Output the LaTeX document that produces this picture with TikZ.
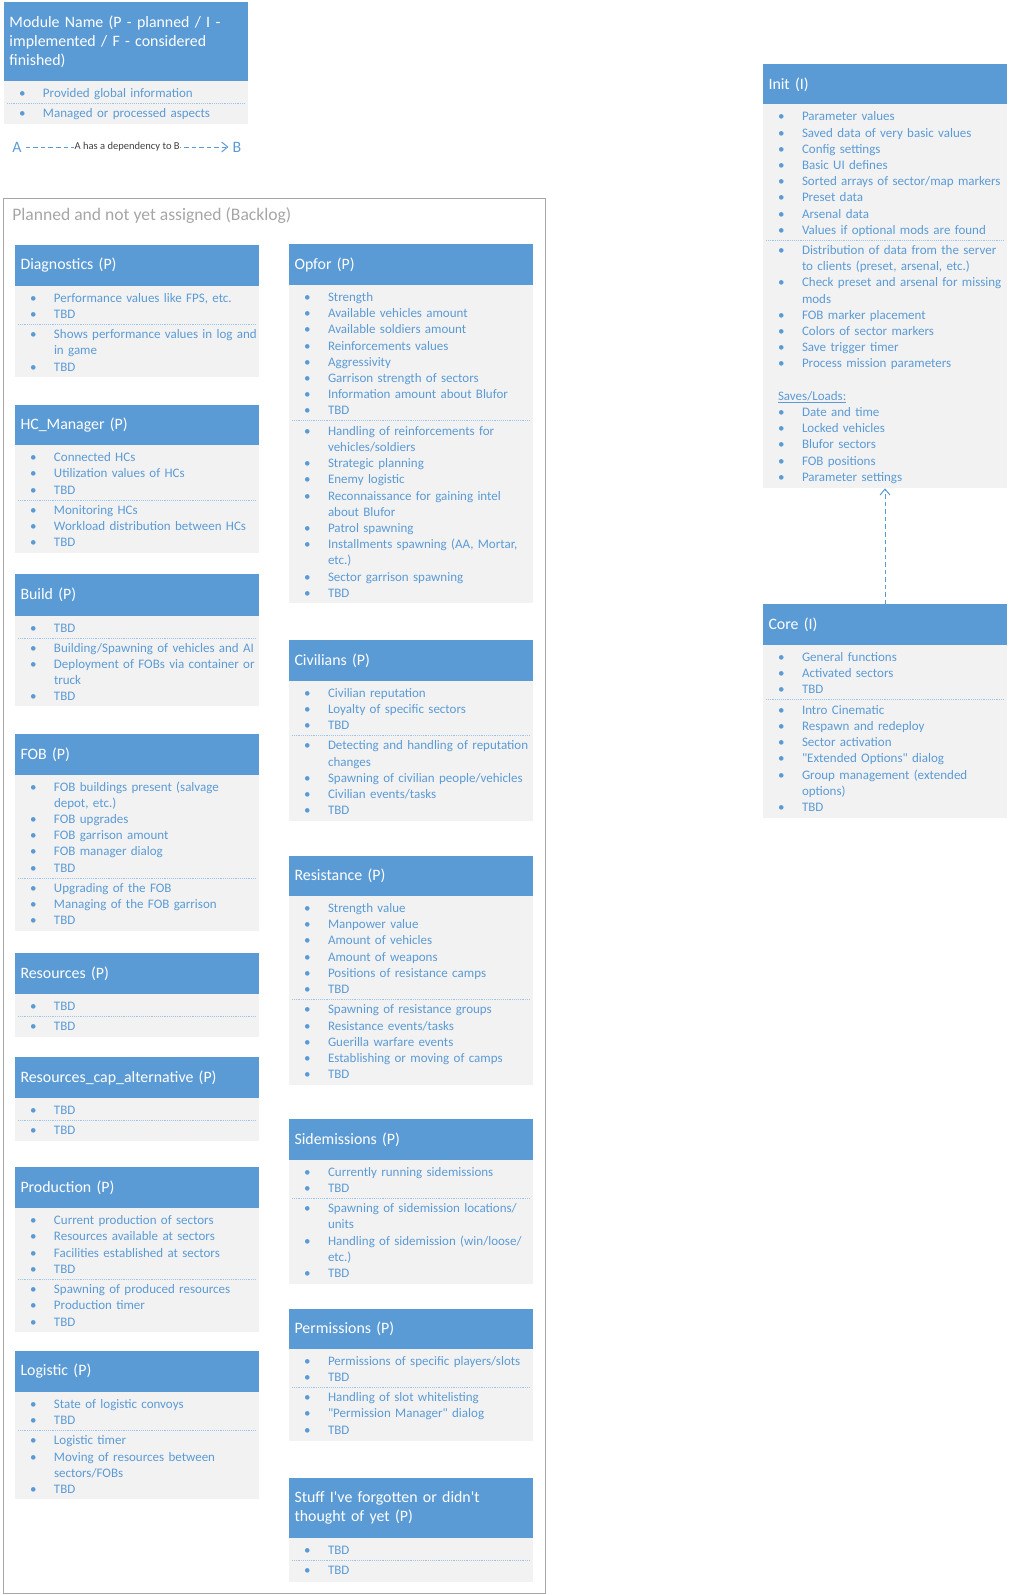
\documentclass[tikz,border=0pt]{standalone}
\usepackage{fontspec}
\setmainfont{Carlito}[Ligatures=TeXOff]
\usetikzlibrary{arrows.meta}
\newdimen\pxu \pxu=0.75pt
\definecolor{hdrblue}{HTML}{5B9BD5}
\definecolor{bodyfill}{HTML}{F2F2F2}
\definecolor{itemc}{HTML}{5B9BD5}
\definecolor{sepc}{HTML}{9DC3E6}
\definecolor{framec}{HTML}{A6A6A6}
\definecolor{titlec}{HTML}{A6A6A6}
\definecolor{labelc}{HTML}{404040}
\newcommand\mystrut{\rule[-3.9pt]{0pt}{12.15pt}}
\newcommand\itm[1]{\noindent\makebox[18pt][l]{\textbullet}\mystrut#1\par}
\newcommand\cnt[1]{\noindent\hspace*{18pt}\mystrut#1\par}
\newcommand\blankline{\noindent\mystrut\par}
\newcommand\plainline[1]{\noindent\mystrut#1\par}
\newcommand\module[8]{%
  \node[hdrbox, minimum height=#4\pxu, anchor=north west] (#1-h) at (#2,#3) {#6};
  \node[bodybox, minimum height=#5\pxu, anchor=north west] (#1) at (#1-h.south west) {};
  \node[itemtext] (#1-a) at ([xshift=11.25pt,yshift=-4.125pt]#1.north west) {#7};
  \coordinate (#1-s) at ([yshift=-0.6pt]#1-a.south west);
  \path (#1.west |- #1-s) coordinate (#1-sl) (#1.east |- #1-s) coordinate (#1-sr);
  \draw[sepline] ([xshift=2.25pt]#1-sl) -- ([xshift=-2.25pt]#1-sr);
  \node[itemtext] (#1-b) at ([yshift=-3.075pt]#1-a.south west) {#8};
}
\tikzset{
  hdrbox/.style={fill=hdrblue, text=white, minimum width=183pt, text width=174.75pt,
    inner xsep=4.125pt, inner ysep=0pt, outer sep=0pt, align=left,
    font={\fontsize{11.9pt}{14.25pt}\selectfont}},
  bodybox/.style={fill=bodyfill, minimum width=183pt, inner sep=0pt, outer sep=0pt},
  itemtext/.style={anchor=north west, inner sep=0pt, outer sep=0pt, text=itemc,
    text width=176pt, align=left, font={\fontsize{9.75pt}{12.15pt}\selectfont}},
  sepline/.style={draw=sepc, line width=0.75pt, dash pattern=on 0.7pt off 0.7pt},
  dep/.style={draw=hdrblue, line width=0.75pt, dash pattern=on 3.4pt off 2.25pt,
    -{Straight Barb[length=4.5pt, width=7.5pt]}},
}
\begin{document}
\begin{tikzpicture}[x=0.75pt, y=-0.75pt]
\useasboundingbox (0,0) rectangle (1010,1595);

% Legend
\module{legend}{4}{2}{79}{43}{Module Name (P - planned / I -\\implemented / F - considered\\finished)}
  {\itm{Provided global information}}
  {\itm{Managed or processed aspects}}
\node[text=hdrblue, inner xsep=3pt, inner ysep=0pt, font={\fontsize{11.9pt}{14.25pt}\selectfont}] (lgA) at (17,147) {A};
\node[text=hdrblue, inner xsep=3pt, inner ysep=0pt, font={\fontsize{11.9pt}{14.25pt}\selectfont}] (lgB) at (237,147) {B};
\draw[dep] (lgA) -- (lgB) node[pos=0.5, fill=white, inner xsep=0.5pt, inner ysep=1pt, text=labelc, font={\fontsize{7.9pt}{9pt}\selectfont}] (lgL) {A has a dependency to B};

% Backlog frame
\node[draw=framec, line width=0.75pt, minimum width=406.3pt, minimum height=1046.25pt,
  anchor=north west, inner sep=0pt, outer sep=0pt] (backlog) at (3.3,198.3) {};
\node[anchor=west, inner sep=0pt, text=titlec, font={\fontsize{13.2pt}{15pt}\selectfont}] (backlog-t) at (12,215.7) {Planned and not yet assigned (Backlog)};

% Left column
\module{diag}{15}{245}{40.7}{91.6}{Diagnostics (P)}
  {\itm{Performance values like FPS, etc.}\itm{TBD}}
  {\itm{Shows performance values in log and}\cnt{in game}\itm{TBD}}
\module{hcm}{15}{404.5}{40.6}{107.4}{HC\_Manager (P)}
  {\itm{Connected HCs}\itm{Utilization values of HCs}\itm{TBD}}
  {\itm{Monitoring HCs}\itm{Workload distribution between HCs}\itm{TBD}}
\module{build}{15}{574.2}{41.3}{90.6}{Build (P)}
  {\itm{TBD}}
  {\itm{Building/Spawning of vehicles and AI}\itm{Deployment of FOBs via container or}\cnt{truck}\itm{TBD}}
\module{fob}{15}{734.4}{40.2}{156.1}{FOB (P)}
  {\itm{FOB buildings present (salvage}\cnt{depot, etc.)}\itm{FOB upgrades}\itm{FOB garrison amount}\itm{FOB manager dialog}\itm{TBD}}
  {\itm{Upgrading of the FOB}\itm{Managing of the FOB garrison}\itm{TBD}}
\module{res}{15}{952.9}{41}{43.3}{Resources (P)}
  {\itm{TBD}}
  {\itm{TBD}}
\module{rescap}{15}{1057.3}{40.7}{42.9}{Resources\_cap\_alternative (P)}
  {\itm{TBD}}
  {\itm{TBD}}
\module{prod}{15}{1167.1}{41.1}{123.6}{Production (P)}
  {\itm{Current production of sectors}\itm{Resources available at sectors}\itm{Facilities established at sectors}\itm{TBD}}
  {\itm{Spawning of produced resources}\itm{Production timer}\itm{TBD}}
\module{logi}{15}{1350.7}{41.1}{107.3}{Logistic (P)}
  {\itm{State of logistic convoys}\itm{TBD}}
  {\itm{Logistic timer}\itm{Moving of resources between}\cnt{sectors/FOBs}\itm{TBD}}

% Right column
\module{opfor}{289}{244.3}{40.7}{317.7}{Opfor (P)}
  {\itm{Strength}\itm{Available vehicles amount}\itm{Available soldiers amount}\itm{Reinforcements values}\itm{Aggressivity}\itm{Garrison strength of sectors}\itm{Information amount about Blufor}\itm{TBD}}
  {\itm{Handling of reinforcements for}\cnt{vehicles/soldiers}\itm{Strategic planning}\itm{Enemy logistic}\itm{Reconnaissance for gaining intel}\cnt{about Blufor}\itm{Patrol spawning}\itm{Installments spawning (AA, Mortar,}\cnt{etc.)}\itm{Sector garrison spawning}\itm{TBD}}
\module{civ}{289}{640.3}{40.4}{140}{Civilians (P)}
  {\itm{Civilian reputation}\itm{Loyalty of specific sectors}\itm{TBD}}
  {\itm{Detecting and handling of reputation}\cnt{changes}\itm{Spawning of civilian people/vehicles}\itm{Civilian events/tasks}\itm{TBD}}
\module{resist}{289}{855.7}{40.3}{189.3}{Resistance (P)}
  {\itm{Strength value}\itm{Manpower value}\itm{Amount of vehicles}\itm{Amount of weapons}\itm{Positions of resistance camps}\itm{TBD}}
  {\itm{Spawning of resistance groups}\itm{Resistance events/tasks}\itm{Guerilla warfare events}\itm{Establishing or moving of camps}\itm{TBD}}
\module{side}{289}{1119}{40.7}{124}{Sidemissions (P)}
  {\itm{Currently running sidemissions}\itm{TBD}}
  {\itm{Spawning of sidemission locations/}\cnt{units}\itm{Handling of sidemission (win/loose/}\cnt{etc.)}\itm{TBD}}
\module{perm}{289}{1308.7}{40}{92.3}{Permissions (P)}
  {\itm{Permissions of specific players/slots}\itm{TBD}}
  {\itm{Handling of slot whitelisting}\itm{"Permission Manager" dialog}\itm{TBD}}
\module{stuff}{289}{1478.3}{59.7}{43.7}{Stuff I've forgotten or didn't\\thought of yet (P)}
  {\itm{TBD}}
  {\itm{TBD}}

% Implemented modules
\module{init}{763}{64.3}{40}{384}{Init (I)}
  {\itm{Parameter values}\itm{Saved data of very basic values}\itm{Config settings}\itm{Basic UI defines}\itm{Sorted arrays of sector/map markers}\itm{Preset data}\itm{Arsenal data}\itm{Values if optional mods are found}}
  {\itm{Distribution of data from the server}\cnt{to clients (preset, arsenal, etc.)}\itm{Check preset and arsenal for missing}\cnt{mods}\itm{FOB marker placement}\itm{Colors of sector markers}\itm{Save trigger timer}\itm{Process mission parameters}\blankline\plainline{\underline{Saves/Loads:}}\itm{Date and time}\itm{Locked vehicles}\itm{Blufor sectors}\itm{FOB positions}\itm{Parameter settings}}
\module{core}{763}{604.3}{40.7}{173.3}{Core (I)}
  {\itm{General functions}\itm{Activated sectors}\itm{TBD}}
  {\itm{Intro Cinematic}\itm{Respawn and redeploy}\itm{Sector activation}\itm{"Extended Options" dialog}\itm{Group management (extended}\cnt{options)}\itm{TBD}}

\draw[dep] (core-h.north) -- (init.south);
\end{tikzpicture}
\end{document}
